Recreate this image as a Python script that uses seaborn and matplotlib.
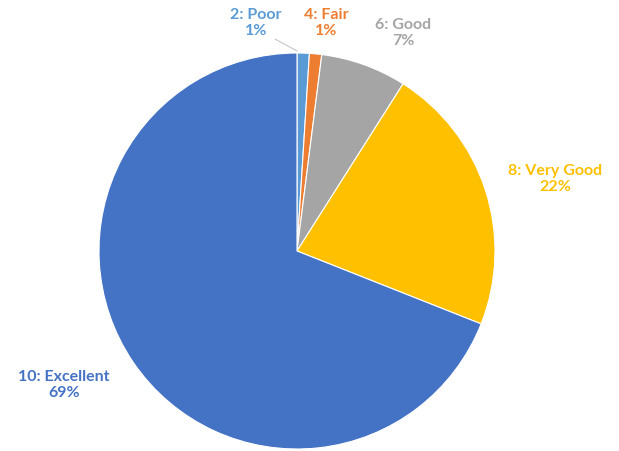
import matplotlib
matplotlib.use("Agg")
import matplotlib.pyplot as plt
import seaborn as sns

sns.set_theme(style="white")
plt.rcParams['font.family'] = ['Lato', 'DejaVu Sans']

categories = ["2: Poor", "4: Fair", "6: Good", "8: Very Good", "10: Excellent"]
values = [1, 1, 7, 22, 69]
colors = ["#5B9BD5", "#ED7D31", "#A5A5A5", "#FFC000", "#4472C4"]

# label positions in pixel coords (layout)
label_pos = [(256, 23), (326, 23), (403, 33), (555, 179), (64, 385)]

W, H = 619, 452
fig = plt.figure(figsize=(W / 100, H / 100), dpi=100)
ax = fig.add_axes([0, 0, 1, 1])
ax.set_xlim(0, W)
ax.set_ylim(0, H)
ax.set_aspect('equal')
ax.axis('off')

ax.pie(values, colors=colors, startangle=90, counterclock=False,
       center=(297, H - 252), radius=198,
       wedgeprops=dict(edgecolor="white", linewidth=0.8))
ax.set_xlim(0, W)
ax.set_ylim(0, H)

for cat, v, c, (x, y) in zip(categories, values, colors, label_pos):
    ax.text(x, H - y, f"{cat}\n{v}%", color=c, ha="center", va="center",
            fontsize=11.5, fontweight="bold", linespacing=1.2)

# leader line for the Poor label
ax.plot([275, 297], [H - 40, H - 52], color="#BFBFBF", lw=0.7)

fig.savefig("out.png", dpi=100)
